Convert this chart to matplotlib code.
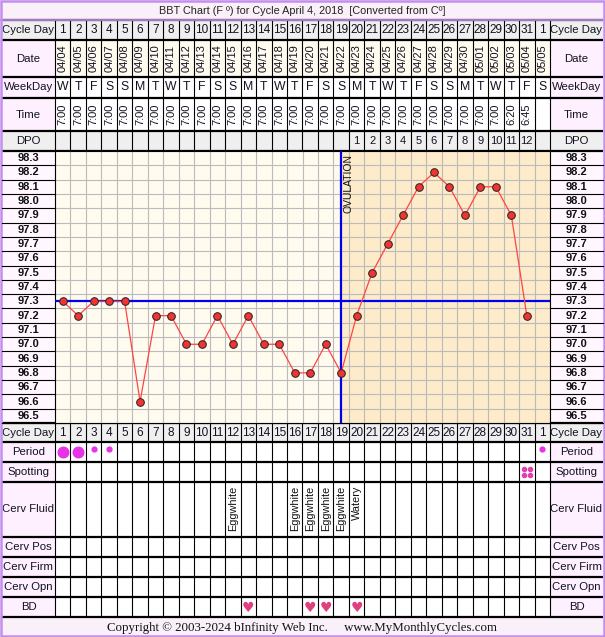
import matplotlib
matplotlib.use("Agg")
import matplotlib.pyplot as plt
from matplotlib.patches import Rectangle
from matplotlib.transforms import blended_transform_factory

plt.rcParams['font.family'] = ['Liberation Sans', 'DejaVu Sans']

# ---- chart data ----
cycle_days = [1, 2, 3, 4, 5, 6, 7, 8, 9, 10, 11, 12, 13, 14, 15, 16,
              17, 18, 19, 20, 21, 22, 23, 24, 25, 26, 27, 28, 29, 30, 31, 1]
dates = ["04/04", "04/05", "04/06", "04/07", "04/08", "04/09", "04/10", "04/11",
         "04/12", "04/13", "04/14", "04/15", "04/16", "04/17", "04/18", "04/19",
         "04/20", "04/21", "04/22", "04/23", "04/24", "04/25", "04/26", "04/27",
         "04/28", "04/29", "04/30", "05/01", "05/02", "05/03", "05/04", "05/05"]
weekdays = ["W", "T", "F", "S", "S", "M", "T", "W", "T", "F", "S", "S", "M", "T", "W", "T",
            "F", "S", "S", "M", "T", "W", "T", "F", "S", "S", "M", "T", "W", "T", "F", "S"]
times = ["7:00", "7:00", "7:00", "7:00", "7:00", "7:00", "7:00", "7:00",
         "7:00", "7:00", "7:00", "7:00", "7:00", "7:00", "7:00", "7:00",
         "7:00", "7:00", "7:00", "7:00", "7:00", "7:00", "7:00", "7:00",
         "7:00", "7:00", "7:00", "7:00", "7:00", "6:20", "6:45", ""]
dpo = ["", "", "", "", "", "", "", "", "", "", "", "", "", "", "", "",
       "", "", "", "1", "2", "3", "4", "5", "6", "7", "8", "9", "10", "11", "12", ""]
temps = [97.3, 97.2, 97.3, 97.3, 97.3, 96.6, 97.2, 97.2, 97.0, 97.0, 97.2,
         97.0, 97.2, 97.0, 97.0, 96.8, 96.8, 97.0, 96.8, 97.2, 97.5, 97.7,
         97.9, 98.1, 98.2, 98.1, 97.9, 98.1, 98.1, 97.9, 97.2]
temp_ticks = [98.3, 98.2, 98.1, 98.0, 97.9, 97.8, 97.7, 97.6, 97.5, 97.4,
              97.3, 97.2, 97.1, 97.0, 96.9, 96.8, 96.7, 96.6, 96.5]
cover_line = 97.3
ovulation_day = 19
period_heavy = [1, 2]
period_light = [3, 4, 32]
spotting_days = [31]
fluid_days = [12, 16, 17, 18, 19, 20]
fluid_text = ["Eggwhite", "Eggwhite", "Eggwhite", "Eggwhite", "Eggwhite", "Watery"]
bd_days = [13, 17, 18, 20]

# ---- layout (pixels) ----
W, H = 605, 637
LEFT, RIGHT = 55, 550
NCOL = len(cycle_days)
COLW = (RIGHT - LEFT) / NCOL
CHART_TOP, CHART_BOT = 151, 423

PINK = '#FFF0FF'
GRAY = '#EFEFEF'
CREAM = '#FFFBEF'
LUTEAL = '#FDEBC9'
TXT = '#111122'


def px2d(px):
    return 0.5 + (px - LEFT) / COLW


fig = plt.figure(figsize=(W / 100, H / 100), dpi=100)
fig.patch.set_facecolor('white')
tab = fig.add_axes([0, 0, 1, 1])
tab.set_xlim(px2d(0), px2d(W))
tab.set_ylim(H, 0)
tab.axis('off')

xl0, xl1 = px2d(2), px2d(LEFT)
xr0, xr1 = px2d(RIGHT), px2d(603)
xs = list(range(1, NCOL + 1))


def table_row(y0, y1, label, cell_color, label_color, values=None, **kw):
    tab.add_patch(Rectangle((xl0, y0), xl1 - xl0, y1 - y0, fc=label_color, ec='none'))
    tab.add_patch(Rectangle((xr0, y0), xr1 - xr0, y1 - y0, fc=label_color, ec='none'))
    tab.add_patch(Rectangle((0.5, y0), NCOL, y1 - y0, fc=cell_color, ec='none'))
    tab.vlines([i + 0.5 for i in range(0, NCOL + 1)], y0, y1, color='black', lw=0.8)
    ym = (y0 + y1) / 2
    tab.text((xl0 + xl1) / 2, ym, label, ha='center', va='center', fontsize=8.2, color=TXT)
    tab.text((xr0 + xr1) / 2, ym, label, ha='center', va='center', fontsize=8.2, color=TXT)
    if values is not None:
        for x, v in zip(xs, values):
            tab.text(x, ym, str(v), ha='center', va='center', color=TXT, **kw)


# title and footer bands
tab.add_patch(Rectangle((px2d(0), 0), px2d(W) - px2d(0), 20, fc='#FAF0FA', ec='none'))
tab.add_patch(Rectangle((px2d(0), 617), px2d(W) - px2d(0), 20, fc='#FAF0FA', ec='none'))
tab.text(px2d(W / 2), 10.5, "BBT Chart (F º) for Cycle April 4, 2018  [Converted from Cº]",
         ha='center', va='center', fontsize=7.8, color='#222222')
tab.text(px2d(W / 2), 628, "Copyright © 2003-2024 bInfinity Web Inc.     www.MyMonthlyCycles.com",
         ha='center', va='center', fontsize=9.3, color='#111111',
         family=['Liberation Serif', 'DejaVu Serif'])

# upper header rows
table_row(20, 40, "Cycle Day", GRAY, GRAY, cycle_days, fontsize=8.5)
table_row(40, 77, "Date", CREAM, PINK, dates, fontsize=8, rotation=90)
table_row(77, 98, "WeekDay", 'white', PINK, weekdays, fontsize=8.8)
table_row(98, 131, "Time", 'white', PINK, times, fontsize=8, rotation=90)
table_row(131, 151, "DPO", GRAY, GRAY, dpo, fontsize=8)

# lower rows
table_row(423, 442, "Cycle Day", GRAY, GRAY, cycle_days, fontsize=8.5)
table_row(442, 462, "Period", 'white', PINK)
table_row(462, 482, "Spotting", 'white', PINK)
table_row(482, 537, "Cerv Fluid", 'white', PINK)
table_row(537, 557, "Cerv Pos", 'white', PINK)
table_row(557, 577, "Cerv Firm", 'white', PINK)
table_row(577, 597, "Cerv Opn", 'white', PINK)
table_row(597, 617, "BD", 'white', PINK)

# label columns beside the chart
tab.add_patch(Rectangle((xl0, CHART_TOP), xl1 - xl0, CHART_BOT - CHART_TOP, fc='#FFF6FF', ec='none'))
tab.add_patch(Rectangle((xr0, CHART_TOP), xr1 - xr0, CHART_BOT - CHART_TOP, fc='#FFF6FF', ec='none'))

# period / spotting / fluid / BD marks
tab.scatter(period_heavy, [452] * len(period_heavy), s=58, color='#E633E6', zorder=5)
tab.scatter(period_light, [449] * len(period_light), s=12, color='#E633E6', zorder=5)
for d in spotting_days:
    tab.scatter([d - 0.18, d + 0.18, d - 0.18, d + 0.18], [469, 469, 475, 475],
                s=9, color='#E040B0', zorder=5)
for d, t in zip(fluid_days, fluid_text):
    tab.text(d, 486, t, rotation=90, ha='center', va='top', fontsize=7.8, color='#111111')
for d in bd_days:
    tab.text(d, 607.5, "♥", ha='center', va='center', fontsize=10, color='#E0407F',
             family=['DejaVu Sans'])

# thick row separators
row_lines = [20, 40, 77, 98, 131, 151, 423, 442, 462, 482, 537, 557, 577, 597, 617]
tab.hlines(row_lines, xl0, xr1, color='black', lw=1.6)

# purple frame
tab.hlines([19.5], px2d(0), px2d(W), color='#C48EEE', lw=1.2)
tab.add_patch(Rectangle((px2d(1), 1), px2d(W - 1) - px2d(1), H - 2, fc='none',
                        ec='#C48EEE', lw=1.8, zorder=10))

# ---- temperature chart ----
cax = fig.add_axes([LEFT / W, (H - CHART_BOT) / H, (RIGHT - LEFT) / W,
                    (CHART_BOT - CHART_TOP) / H])
cax.set_xlim(0.5, NCOL + 0.5)
cax.set_ylim(temp_ticks[-1] - 0.05, temp_ticks[0] + 0.05)
cax.set_facecolor(CREAM)
cax.axvspan(ovulation_day, NCOL + 0.5, color=LUTEAL, lw=0, zorder=0)
cax.set_xticks([])
cax.set_yticks([])
for s in cax.spines.values():
    s.set_color('black')
    s.set_linewidth(0.8)
for i in range(NCOL + 1):
    cax.axvline(i + 0.5, color='#BBBBBB', lw=0.8, zorder=1)
for v in temp_ticks:
    cax.axhline(v - 0.05, color='#BBBBBB', lw=0.8, zorder=1)

cax.axhline(cover_line, color='#0000EE', lw=1.6, zorder=3)
cax.axvline(ovulation_day, color='#0000EE', lw=1.6, zorder=3)
cax.text(ovulation_day + 0.5, temp_ticks[0] + 0.03, "OVULATION", rotation=90,
         ha='center', va='top', fontsize=7.5, color='#111111', zorder=4)
cax.plot(range(1, len(temps) + 1), temps, color='#FF4444', lw=0.9, zorder=4)
cax.plot(range(1, len(temps) + 1), temps, 'o', ms=5.5, mfc='#F03333', mec='#222222',
         mew=0.7, zorder=5)

# temperature labels on both sides
btr = blended_transform_factory(tab.transData, cax.transData)
for v in temp_ticks:
    for x0, x1 in ((xl0, xl1), (xr0, xr1)):
        cax.text((x0 + x1) / 2, v, f"{v:.1f}", transform=btr, ha='center', va='center',
                 fontsize=8, fontweight='bold', color='#111111', clip_on=False)
        cax.plot([x0, x1], [v - 0.05, v - 0.05], transform=btr, color='black', lw=0.8,
                 clip_on=False)

fig.savefig("out.png", dpi=100)
